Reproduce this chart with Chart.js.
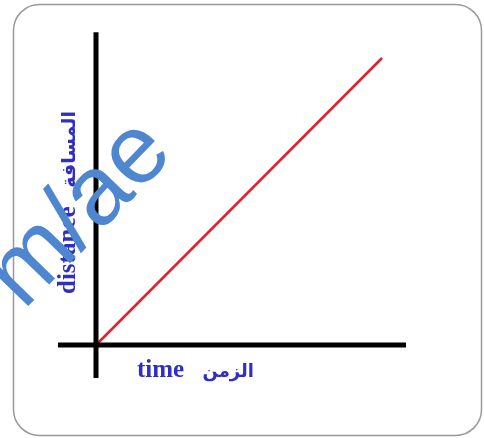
<!DOCTYPE html>
<html>
<head>
<meta charset="utf-8">
<script src="https://cdn.jsdelivr.net/npm/chart.js@4"></script>
<style>
html,body{margin:0;padding:0;background:#fff;}
#wrap{position:relative;width:484px;height:438px;}
</style>
</head>
<body>
<div id="wrap"><canvas id="c" width="484" height="438"></canvas></div>
<script>
// ---- data ----
const timeValues = [0, 10];
const distanceValues = [0, 10];
const xAxisSpan = [-1.33, 10.84];   // horizontal axis extent (time units)
const yAxisSpan = [-1.15, 10.9];    // vertical axis extent (distance units)
const xLabelEn = 'time';
const xLabelAr = 'الزمن';
const yLabelEn = 'distance';
const yLabelAr = 'المسافة';
const watermarkText = 'm/ae';

const lineData = timeValues.map((t, i) => ({x: t, y: distanceValues[i]}));
const xAxisData = xAxisSpan.map(v => ({x: v, y: 0}));
const yAxisData = yAxisSpan.map(v => ({x: 0, y: v}));

const frame = {
  id: 'frame',
  beforeDraw(chart) {
    const ctx = chart.ctx;
    ctx.save();
    ctx.fillStyle = '#ffffff';
    ctx.fillRect(0, 0, chart.width, chart.height);
    ctx.strokeStyle = '#9a9a9a';
    ctx.lineWidth = 1.5;
    ctx.beginPath();
    ctx.roundRect(13.5, 4.5, 468, 431, 26);
    ctx.stroke();
    ctx.restore();
  }
};

const labels = {
  id: 'labels',
  afterDraw(chart) {
    const ctx = chart.ctx;
    const blue = '#2f2fc4';
    ctx.save();
    ctx.fillStyle = blue;
    ctx.textBaseline = 'alphabetic';
    // x-axis title
    ctx.font = 'bold 25px "Liberation Serif"';
    ctx.textAlign = 'left';
    ctx.fillText(xLabelEn, 137, 377);
    ctx.font = 'bold 18px "DejaVu Sans"';
    ctx.direction = 'rtl';
    ctx.textAlign = 'right';
    ctx.fillText(xLabelAr, 254, 377);
    ctx.direction = 'ltr';
    // y-axis title
    ctx.save();
    ctx.translate(75, 0);
    ctx.rotate(-Math.PI / 2);
    ctx.font = 'bold 25px "Liberation Serif"';
    ctx.textAlign = 'left';
    ctx.fillText(yLabelEn, -294, 0);
    ctx.font = 'bold 19px "DejaVu Sans"';
    ctx.direction = 'rtl';
    ctx.textAlign = 'right';
    ctx.fillText(yLabelAr, -111, 0);
    ctx.restore();
    // watermark
    ctx.save();
    ctx.translate(80, 214);
    ctx.rotate(-0.8);
    ctx.fillStyle = '#4f86d0';
    ctx.font = '98px "Liberation Sans"';
    ctx.textAlign = 'center';
    ctx.textBaseline = 'middle';
    ctx.fillText(watermarkText, 0, 0);
    ctx.restore();
    ctx.restore();
  }
};

new Chart(document.getElementById('c'), {
  type: 'line',
  data: {
    datasets: [
      {data: xAxisData, borderColor: '#000000', borderWidth: 5, pointRadius: 0, borderCapStyle: 'butt'},
      {data: yAxisData, borderColor: '#000000', borderWidth: 5, pointRadius: 0, borderCapStyle: 'butt'},
      {data: lineData, borderColor: '#e3202c', borderWidth: 2.5, pointRadius: 0, borderCapStyle: 'butt'}
    ]
  },
  options: {
    responsive: false,
    animation: false,
    events: [],
    layout: {padding: 0},
    plugins: {legend: {display: false}, tooltip: {enabled: false}},
    scales: {
      x: {type: 'linear', display: false, min: -3.3566, max: 13.566},
      y: {type: 'linear', display: false, min: -3.2404, max: 12.0209}
    }
  },
  plugins: [frame, labels]
});
</script>
</body>
</html>
